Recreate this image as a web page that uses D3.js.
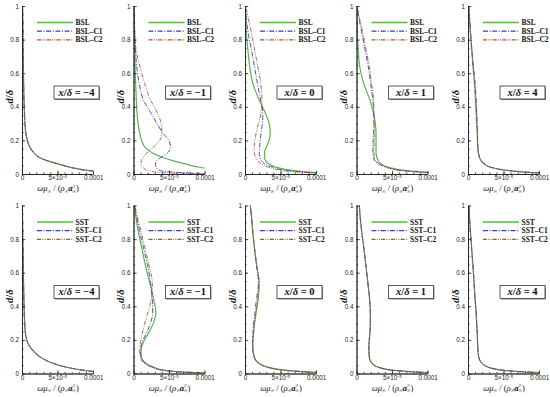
<!DOCTYPE html>
<html>
<head>
<meta charset="utf-8">
<script src="https://cdn.jsdelivr.net/npm/d3@7"></script>
<style>
  body { margin: 0; background: #fff; }
  .tick text { font-family: 'Liberation Sans', Arial, sans-serif; font-size: 6.3px; fill: #222; }
  .axis path, .axis line { stroke: #222; stroke-width: 0.8; }
</style>
</head>
<body>
<script>
// wall-normal stations and model names
const stations = ['\u22124', '\u22121', '0', '1', '4'];
const rowModels = ['BSL', 'SST'];

// d/delta levels shared by every profile
const dGrid = [0, 0.01, 0.02, 0.04, 0.06, 0.08, 0.1, 0.13, 0.16, 0.2, 0.24, 0.3, 0.36, 0.44, 0.54, 0.64, 0.74, 0.84, 0.94, 1];

// omega*mu/(rho*a^2), units of 1e-5, one row per station
const bslBase = [
  [14, 12, 9.5, 6.8, 5.1, 3.5, 2.4, 1.6, 1.1, 0.75, 0.55, 0.42, 0.35, 0.28, 0.23, 0.19, 0.16, 0.13, 0.1, 0.08],
  [16, 14, 12.5, 9.3, 7.3, 5.5, 4.0, 2.5, 1.6, 1.15, 0.9, 0.65, 0.5, 0.4, 0.3, 0.22, 0.17, 0.13, 0.1, 0.08],
  [14, 9.5, 6.9, 4.4, 3.4, 2.9, 2.75, 2.75, 3.0, 3.4, 3.55, 3.4, 2.9, 2.0, 1.1, 0.67, 0.4, 0.2, 0.1, 0.05],
  [14, 10, 7, 4.5, 3.5, 3.05, 2.85, 2.75, 2.75, 2.75, 2.75, 2.65, 2.4, 1.9, 1.0, 0.45, 0.25, 0.1, 0.05, 0.03],
  [14, 8.5, 5.8, 3.2, 2.3, 1.85, 1.6, 1.45, 1.38, 1.33, 1.3, 1.22, 1.15, 1.05, 0.9, 0.7, 0.52, 0.35, 0.2, 0.1]
];
const bslC1 = [
  [14, 12, 9.5, 6.8, 5.1, 3.5, 2.4, 1.6, 1.1, 0.75, 0.55, 0.42, 0.35, 0.28, 0.23, 0.19, 0.16, 0.13, 0.1, 0.08],
  [12, 6, 3.8, 3.2, 3.1, 3.3, 3.9, 4.9, 5.2, 5.0, 4.2, 3.3, 2.5, 1.4, 0.8, 0.45, 0.28, 0.18, 0.1, 0.06],
  [13, 8.5, 6, 3.9, 2.8, 2.3, 2.1, 2.0, 2.05, 2.15, 2.25, 2.45, 2.5, 2.2, 1.75, 1.33, 0.9, 0.45, 0.15, 0.05],
  [14, 9.5, 6.5, 4.2, 3.1, 2.55, 2.4, 2.3, 2.3, 2.35, 2.4, 2.45, 2.45, 2.3, 2.0, 1.65, 1.2, 0.75, 0.3, 0.08],
  [14, 8.5, 5.8, 3.2, 2.3, 1.85, 1.6, 1.47, 1.4, 1.36, 1.35, 1.3, 1.24, 1.15, 1.0, 0.76, 0.55, 0.36, 0.2, 0.1]
];
const bslC2 = [
  [14, 12, 9.5, 6.8, 5.1, 3.5, 2.4, 1.6, 1.1, 0.75, 0.55, 0.42, 0.35, 0.28, 0.23, 0.19, 0.16, 0.13, 0.1, 0.08],
  [10, 3.5, 2.2, 1.3, 1.05, 1.1, 1.4, 2.0, 2.8, 3.7, 4.0, 3.9, 3.4, 2.4, 1.55, 0.9, 0.35, 0.18, 0.1, 0.06],
  [13, 8, 5.5, 3.4, 2.3, 1.8, 1.5, 1.3, 1.3, 1.4, 1.55, 1.9, 2.25, 2.4, 2.2, 1.8, 1.35, 0.9, 0.4, 0.1],
  [14, 9.5, 6.6, 4.3, 3.2, 2.65, 2.5, 2.45, 2.45, 2.5, 2.5, 2.5, 2.45, 2.4, 2.1, 1.8, 1.35, 0.9, 0.35, 0.1],
  [14, 8.5, 5.8, 3.2, 2.3, 1.85, 1.6, 1.46, 1.39, 1.35, 1.32, 1.26, 1.2, 1.1, 0.95, 0.73, 0.54, 0.36, 0.2, 0.1]
];
const sstBase = [
  [14, 10.5, 8.5, 6.0, 4.4, 3.3, 2.5, 1.7, 1.1, 0.65, 0.48, 0.38, 0.32, 0.27, 0.22, 0.18, 0.14, 0.1, 0.07, 0.05],
  [12, 6.5, 4.2, 2.7, 1.8, 1.3, 1.1, 1.05, 1.15, 1.55, 2.1, 2.8, 3.15, 2.85, 2.3, 1.7, 1.2, 0.7, 0.3, 0.1],
  [13, 8.5, 5.5, 3.0, 2.0, 1.5, 1.3, 1.15, 1.1, 1.12, 1.2, 1.35, 1.55, 1.85, 2.0, 1.65, 1.35, 1.1, 0.9, 0.75],
  [13, 8, 5, 2.9, 2.2, 1.9, 1.8, 1.75, 1.75, 1.8, 1.88, 1.95, 1.95, 1.85, 1.6, 1.33, 1.05, 0.75, 0.5, 0.4],
  [13, 7.8, 4.8, 2.7, 2.0, 1.65, 1.5, 1.42, 1.38, 1.33, 1.3, 1.22, 1.15, 1.0, 0.85, 0.7, 0.52, 0.35, 0.2, 0.15]
];
const sstC1 = [
  [14, 10.5, 8.5, 6.0, 4.4, 3.3, 2.5, 1.7, 1.1, 0.65, 0.48, 0.38, 0.32, 0.27, 0.22, 0.18, 0.14, 0.1, 0.07, 0.05],
  [12, 6.5, 4.1, 2.6, 1.7, 1.25, 1.05, 0.98, 1.05, 1.35, 1.8, 2.4, 2.7, 2.65, 2.4, 2.0, 1.45, 0.9, 0.4, 0.15],
  [13, 8.5, 5.5, 3.0, 2.0, 1.5, 1.28, 1.12, 1.07, 1.08, 1.12, 1.22, 1.4, 1.6, 1.9, 1.65, 1.35, 1.1, 0.9, 0.75],
  [13, 8, 5, 2.9, 2.2, 1.9, 1.8, 1.75, 1.75, 1.8, 1.88, 1.95, 1.95, 1.85, 1.6, 1.33, 1.05, 0.75, 0.5, 0.4],
  [13, 7.8, 4.8, 2.7, 2.0, 1.65, 1.5, 1.42, 1.38, 1.33, 1.3, 1.22, 1.15, 1.0, 0.85, 0.7, 0.52, 0.35, 0.2, 0.15]
];
const sstC2 = [
  [14, 10.5, 8.5, 6.0, 4.4, 3.3, 2.5, 1.7, 1.1, 0.65, 0.48, 0.38, 0.32, 0.27, 0.22, 0.18, 0.14, 0.1, 0.07, 0.05],
  [12, 6.3, 4, 2.4, 1.5, 1.1, 0.95, 0.88, 0.9, 1.05, 1.25, 1.6, 2.0, 2.5, 2.65, 2.2, 1.65, 1.1, 0.5, 0.2],
  [13, 8.5, 5.5, 3.0, 2.0, 1.5, 1.3, 1.15, 1.1, 1.12, 1.2, 1.35, 1.55, 1.8, 1.98, 1.65, 1.35, 1.1, 0.9, 0.75],
  [13, 8, 5, 2.9, 2.2, 1.9, 1.8, 1.75, 1.75, 1.8, 1.88, 1.95, 1.95, 1.85, 1.6, 1.33, 1.05, 0.75, 0.5, 0.4],
  [13, 7.8, 4.8, 2.7, 2.0, 1.65, 1.5, 1.42, 1.38, 1.33, 1.3, 1.22, 1.15, 1.0, 0.85, 0.7, 0.52, 0.35, 0.2, 0.15]
];

const xTicks = [0, 5, 10];
const xTickLabels = ['0', '5\u00d710\u207b\u2075', '0.0001'];
const yTicks = [0, 0.2, 0.4, 0.6, 0.8, 1];

const SERIES_STYLE = [
  { suffix: '',    color: '#5ab54b', width: 1.2, dash: null },
  { suffix: '\u2013C1', color: '#3b3bc8', width: 0.9, dash: '5,1.6,1,1.6' },
  { suffix: '\u2013C2', color: '#a9552e', width: 0.9, dash: '4,1.3,0.9,1.3,0.9,1.3' }
];

const W = 550, H = 397;
const plotW = 71, plotH = 168;
const colX = k => 22 + 111.5 * k;
const rowTop = [6, 205.5];
const rowData = [[bslBase, bslC1, bslC2], [sstBase, sstC1, sstC2]];

const svg = d3.select('body').append('svg').attr('width', W).attr('height', H);

const x = d3.scaleLinear().domain([0, 10]).range([0, plotW]);
const y = d3.scaleLinear().domain([0, 1]).range([plotH, 0]);

const line = d3.line()
  .x(d => x(d[0]))
  .y(d => y(d[1]))
  .curve(d3.curveMonotoneY);

svg.append('defs').append('clipPath').attr('id', 'plotClip')
  .append('rect').attr('x', 0).attr('y', -1).attr('width', plotW).attr('height', plotH + 1);

const serif = "'Liberation Serif', 'Times New Roman', serif";

rowModels.forEach((model, r) => {
  stations.forEach((st, k) => {
    const g = svg.append('g').attr('transform', `translate(${colX(k)},${rowTop[r]})`);

    // curves
    const curves = g.append('g').attr('clip-path', 'url(#plotClip)');
    rowData[r].forEach((set, s) => {
      const sty = SERIES_STYLE[s];
      const pts = set[k].map((v, i) => [v, dGrid[i]]);
      curves.append('path')
        .attr('d', line(pts))
        .attr('fill', 'none')
        .attr('stroke', sty.color)
        .attr('stroke-width', sty.width)
        .attr('stroke-dasharray', sty.dash);
    });

    // axes — minor ticks first, major on top
    g.append('g').attr('class', 'axis')
      .call(d3.axisLeft(y).tickValues(d3.range(0, 1.001, 0.05)).tickSize(-1.6).tickSizeOuter(0).tickFormat(''));
    g.append('g').attr('class', 'axis')
      .call(d3.axisLeft(y).tickValues(yTicks).tickSize(-3.2).tickSizeOuter(0).tickPadding(3).tickFormat(d3.format('~g')));
    g.append('g').attr('class', 'axis').attr('transform', `translate(0,${plotH})`)
      .call(d3.axisBottom(x).tickValues(d3.range(0, 10.01, 1)).tickSize(-1.6).tickSizeOuter(0).tickFormat(''));
    g.append('g').attr('class', 'axis').attr('transform', `translate(0,${plotH})`)
      .call(d3.axisBottom(x).tickValues(xTicks).tickSize(-3.2).tickSizeOuter(0).tickPadding(2)
        .tickFormat((d, i) => xTickLabels[i]))
      .selectAll('.tick text').attr('font-size', (d, i) => i === 1 ? 5 : 6.2);

    // legend
    SERIES_STYLE.forEach((s, i) => {
      const ly = 16.5 + i * 8.7;
      g.append('line').attr('x1', 15).attr('x2', 51).attr('y1', ly).attr('y2', ly)
        .attr('stroke', s.color).attr('stroke-width', i === 0 ? 1.6 : 1.2)
        .attr('stroke-dasharray', s.dash);
      g.append('text').attr('x', 53.5).attr('y', ly + 2.5)
        .attr('font-family', serif)
        .attr('font-weight', 'bold').attr('font-size', 7.5)
        .attr('fill', '#111')
        .text(model + s.suffix);
    });

    // station label box
    const bx = 32, by = 80, bw = 45, bh = 13;
    g.append('rect').attr('x', bx + 1).attr('y', by + 1).attr('width', bw).attr('height', bh).attr('fill', '#888');
    g.append('rect').attr('x', bx).attr('y', by).attr('width', bw).attr('height', bh)
      .attr('fill', '#fff').attr('stroke', '#333').attr('stroke-width', 0.8);
    const lbl = g.append('text').attr('x', bx + bw / 2).attr('y', by + bh / 2 + 3.4)
      .attr('text-anchor', 'middle')
      .attr('font-family', serif)
      .attr('font-weight', 'bold').attr('font-size', 10.5).attr('fill', '#111');
    lbl.append('tspan').attr('font-style', 'italic').text('x');
    lbl.append('tspan').text('/');
    lbl.append('tspan').attr('font-style', 'italic').text('\u03b4');
    lbl.append('tspan').text(' = ' + st);

    // y label
    const yl = g.append('text')
      .attr('transform', `translate(-9.5,${plotH * 0.54}) rotate(-90)`)
      .attr('text-anchor', 'middle')
      .attr('font-family', serif)
      .attr('font-weight', 'bold').attr('font-style', 'italic').attr('font-size', 10.5).attr('fill', '#111');
    yl.append('tspan').text('d');
    yl.append('tspan').attr('font-style', 'normal').text('/');
    yl.append('tspan').text('\u03b4');

    // x label
    const xl = g.append('text').attr('x', 36).attr('y', plotH + 17)
      .attr('text-anchor', 'middle')
      .attr('font-family', serif)
      .attr('font-style', 'italic').attr('font-size', 8.5).attr('fill', '#111');
    xl.append('tspan').text('\u03c9\u03bc');
    xl.append('tspan').attr('font-size', 5).attr('dy', 1.8).text('\u221e');
    xl.append('tspan').attr('dy', -1.8).attr('font-style', 'normal').text(' / (');
    xl.append('tspan').text('\u03c1');
    xl.append('tspan').attr('font-size', 5).attr('dy', 1.8).text('\u221e');
    xl.append('tspan').attr('dy', -1.8).attr('font-weight', 'bold').text('a');
    xl.append('tspan').attr('font-size', 5).attr('dy', -3.5).text('2');
    xl.append('tspan').attr('font-size', 5).attr('dx', -2.6).attr('dy', 5.3).text('\u221e');
    xl.append('tspan').attr('dy', -1.8).attr('font-style', 'normal').text(')');
  });
});
</script>
</body>
</html>
